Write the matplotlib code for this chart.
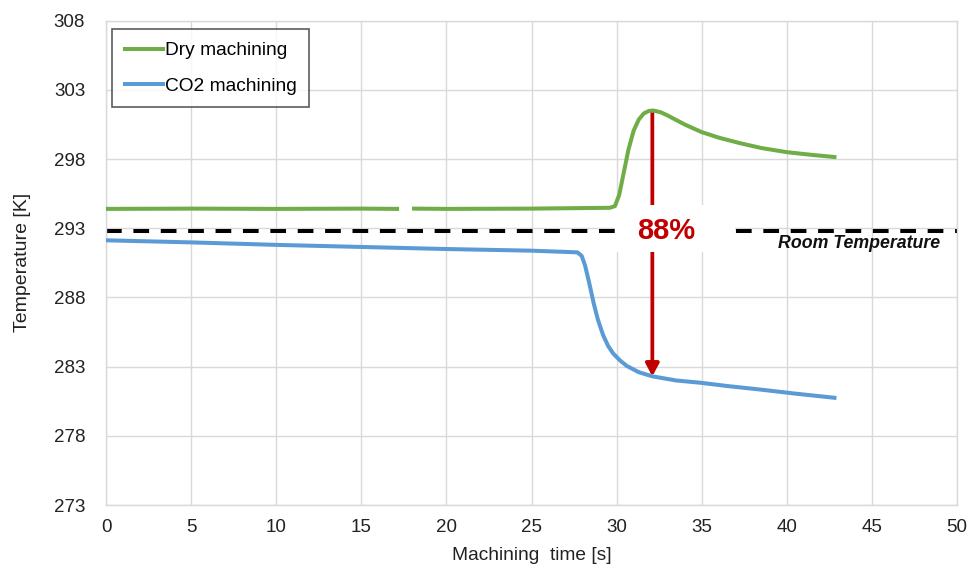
import numpy as np
import matplotlib
matplotlib.use("Agg")
import matplotlib.pyplot as plt
from matplotlib.patches import Rectangle

plt.rcParams['font.family'] = ['Liberation Sans', 'DejaVu Sans']

# Data
dry_t = [0, 5, 10, 15, 17.1, np.nan, 18.1, 20, 25, 29.6, 29.9, 30.15, 30.4, 30.7,
         31.0, 31.3, 31.6, 31.9, 32.2, 32.6, 33.0, 34.0, 35.0, 36.0, 37.25, 38.5,
         40.0, 41.5, 42.8]
dry_T = [294.4, 294.42, 294.4, 294.42, 294.4, np.nan, 294.42, 294.4, 294.42, 294.48,
         294.6, 295.4, 296.9, 298.7, 300.05, 300.85, 301.3, 301.48, 301.5, 301.38,
         301.15, 300.5, 299.95, 299.55, 299.15, 298.8, 298.5, 298.3, 298.15]

co2_t = [0, 5, 10, 15, 20, 25, 27.7, 27.95, 28.15, 28.4, 28.65, 28.9, 29.2, 29.5,
         29.8, 30.2, 30.6, 31.3, 32.1, 33.5, 34.9, 36.5, 38.4, 40.5, 42.8]
co2_T = [292.13, 291.98, 291.8, 291.65, 291.5, 291.38, 291.26, 291.0, 290.3, 289.0,
         287.6, 286.4, 285.3, 284.5, 283.95, 283.45, 283.05, 282.6, 282.3, 282.0,
         281.84, 281.6, 281.35, 281.05, 280.75]

room_T = 292.78
arrow_t = 32.1
arrow_top = 301.5
arrow_bottom = 282.3
reduction_label = "88%"

xticks = list(range(0, 51, 5))
yticks = list(range(273, 309, 5))

fig = plt.figure(figsize=(9.8, 5.75), dpi=100)
ax = fig.add_axes([0.1082, 0.1217, 0.8683, 0.8423])

ax.set_xlim(0, 50)
ax.set_ylim(273, 308)
ax.set_xticks(xticks)
ax.set_yticks(yticks)
ax.grid(True, color='#D9D9D9', lw=1.0, zorder=0)
ax.set_axisbelow(True)
for s in ax.spines.values():
    s.set_color('#D9D9D9')
    s.set_linewidth(1.0)
ax.tick_params(length=0, labelsize=13.5, colors='#222222')
ax.tick_params(axis='x', pad=10)
ax.tick_params(axis='y', pad=15)

# Room temperature dashed line
ax.axhline(room_T, color='black', lw=2.9, ls=(0, (3.9, 2.9)), zorder=2)
ax.text(49.0, room_T - 0.3, "Room Temperature", ha='right', va='top',
        fontsize=12.8, fontstyle='italic', fontweight='bold', color='#111111', zorder=6)

# Arrow
ax.annotate("", xy=(arrow_t, arrow_bottom), xytext=(arrow_t, arrow_top),
            arrowprops=dict(arrowstyle='-|>,head_length=0.75,head_width=0.4',
                            color='#C00000', lw=2.7, shrinkA=0, shrinkB=0),
            zorder=3)

# White box behind label
ax.add_patch(Rectangle((29.9, 291.3), 7.05, 3.35, facecolor='white',
                       edgecolor='none', zorder=4))

ax.plot(dry_t, dry_T, color='#70AD47', lw=2.9, label='Dry machining', zorder=5)
ax.plot(co2_t, co2_T, color='#5B9BD5', lw=2.9, label='CO2 machining', zorder=5)

ax.text(32.9, room_T + 0.05, reduction_label, ha='center', va='center', fontsize=21,
        fontweight='bold', color='#C00000', zorder=6)

ax.set_xlabel("Machining  time [s]", fontsize=13.8, color='#222222', labelpad=8)
ax.set_ylabel("Temperature [K]", fontsize=14, color='#222222', labelpad=16)

leg = ax.legend(loc='upper left', bbox_to_anchor=(0.003, 0.99), fontsize=13.8,
                frameon=True, fancybox=False, handlelength=2.0, handletextpad=0.1,
                labelspacing=0.95, borderpad=0.65, borderaxespad=0.2)
leg.get_frame().set_edgecolor('#333333')
leg.get_frame().set_linewidth(1.2)

fig.savefig("out.png", dpi=100)
